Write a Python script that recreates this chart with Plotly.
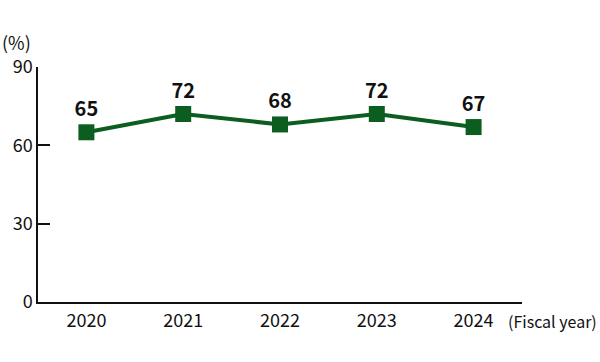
import plotly.graph_objects as go

years = ["2020", "2021", "2022", "2023", "2024"]
values = [65, 72, 68, 72, 67]
y_ticks = [0, 30, 60, 90]

green = "#0b5e1f"
font_family = "Noto Sans CJK JP, Noto Sans, sans-serif"

fig = go.Figure()
fig.add_trace(go.Scatter(
    x=years, y=values,
    mode="lines+markers+text",
    line=dict(color=green, width=4),
    marker=dict(symbol="square", size=16, color=green),
    text=[str(v) for v in values],
    textposition="top center",
    textfont=dict(family=font_family, size=20, color="#111111", weight="bold"),
    cliponaxis=False,
    hoverinfo="skip",
))

fig.update_layout(
    width=600, height=362,
    margin=dict(l=38, r=78, t=67, b=60),
    paper_bgcolor="white", plot_bgcolor="white",
    showlegend=False,
    font=dict(family=font_family, size=18, color="#111111"),
)
fig.update_xaxes(
    type="category", range=[-0.5, 4.5], automargin=False,
    showline=True, linecolor="#111111", linewidth=1.5,
    showgrid=False, ticks="", zeroline=False,
    tickfont=dict(size=18), ticklabelstandoff=2,
)
fig.update_yaxes(
    range=[0, 90], tickvals=y_ticks, automargin=False,
    showline=True, linecolor="#111111", linewidth=1.5,
    showgrid=False, ticks="inside", ticklen=12, tickcolor="#111111", tickwidth=1.5,
    zeroline=False, tickfont=dict(size=18),
)
fig.add_annotation(text="(%)", xref="paper", yref="paper", x=0, y=1, xshift=-38, yshift=10,
                   xanchor="left", yanchor="bottom", showarrow=False, font=dict(size=18))
fig.add_annotation(text="(Fiscal year)", xref="paper", yref="paper", x=1, y=0, xshift=-16, yshift=-19,
                   xanchor="left", yanchor="middle", showarrow=False, font=dict(size=16))

fig.write_html("out.html", config={"displayModeBar": False},
               post_script="document.body.style.margin='0';")
